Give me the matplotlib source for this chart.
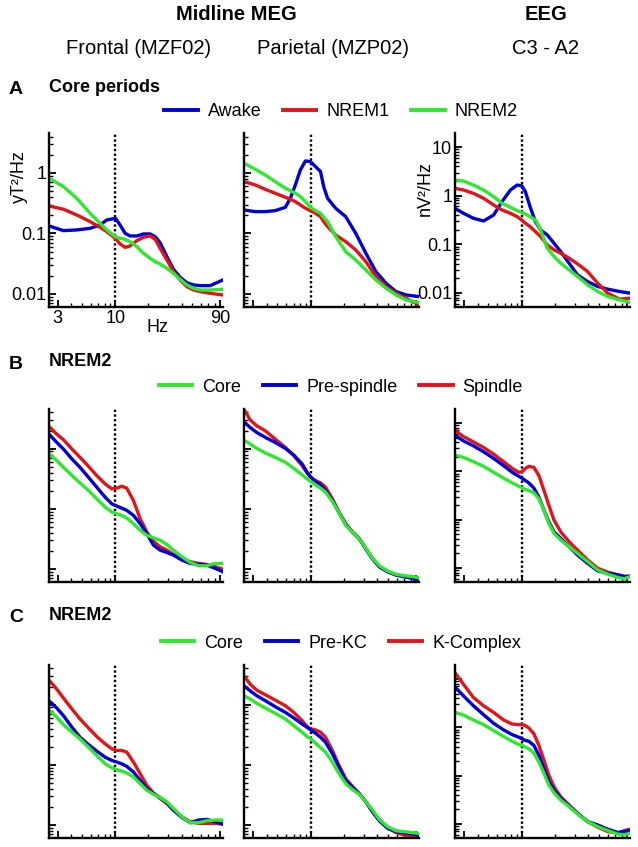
import numpy as np
import matplotlib
matplotlib.use('Agg')
import matplotlib.pyplot as plt
from matplotlib.ticker import FixedLocator, NullFormatter, LogLocator
from matplotlib.lines import Line2D

plt.rcParams['font.family'] = ['Liberation Sans', 'DejaVu Sans']

# ---------------- data (log10 power) ----------------
# Row A: core periods
F_A1 = [2.5, 3.38, 4.46, 5.90, 7.27, 8.36, 10.0, 11.05, 12.27, 13.6, 15.7, 18.0, 20.7, 23.0, 25.5, 29.4, 33.7, 38.8, 44.6, 51.3, 59.0, 72.7, 94.5]
A1_AWAKE = [-0.876, -0.953, -0.942, -0.915, -0.86, -0.777, -0.749, -0.86, -0.997, -1.041, -1.041, -1.008, -1.008, -1.052, -1.152, -1.383, -1.592, -1.725, -1.813, -1.851, -1.862, -1.862, -1.769]
A1_NREM1 = [-0.546, -0.6, -0.694, -0.804, -0.898, -0.97, -1.08, -1.174, -1.229, -1.207, -1.118, -1.063, -1.041, -1.096, -1.245, -1.438, -1.631, -1.769, -1.879, -1.934, -1.961, -1.989, -2.016]
A1_NREM2 = [-0.088, -0.226, -0.419, -0.667, -0.832, -0.942, -1.052, -1.08, -1.096, -1.135, -1.218, -1.328, -1.41, -1.466, -1.504, -1.576, -1.658, -1.758, -1.851, -1.906, -1.934, -1.934, -1.923]

F_A2 = [2.5, 3.15, 3.88, 4.78, 5.90, 6.55, 7.27, 8.07, 8.96, 9.95, 11.05, 12.27, 13.1, 14.2, 16.8, 20.7, 25.5, 31.5, 38.8, 47.9, 59.0, 72.7, 95]
A2_AWAKE = [-0.612, -0.639, -0.639, -0.623, -0.568, -0.419, -0.198, 0.05, 0.198, 0.187, 0.105, 0.022, -0.226, -0.419, -0.584, -0.722, -0.997, -1.328, -1.631, -1.824, -1.961, -2.016, -2.044]
A2_NREM1 = [-0.143, -0.198, -0.27, -0.336, -0.402, -0.435, -0.474, -0.529, -0.584, -0.623, -0.667, -0.722, -0.804, -0.887, -1.025, -1.135, -1.273, -1.466, -1.714, -1.879, -1.989, -2.072, -2.182]
A2_NREM2 = [0.160, 0.061, -0.033, -0.143, -0.253, -0.292, -0.336, -0.391, -0.474, -0.568, -0.623, -0.667, -0.733, -0.804, -1.052, -1.3, -1.438, -1.603, -1.769, -1.906, -2.016, -2.099, -2.143]

F_A3 = [2.5, 2.98, 3.67, 4.53, 5.58, 6.64, 7.91, 9.09, 10.0, 10.8, 11.9, 13.3, 14.8, 17.0, 19.6, 22.5, 26.8, 31.9, 39.3, 48.5, 59.8, 76.3, 95]
A3_AWAKE = [-0.26, -0.362, -0.465, -0.52, -0.397, -0.123, 0.117, 0.219, 0.206, 0.082, -0.226, -0.534, -0.705, -0.807, -0.979, -1.15, -1.389, -1.629, -1.766, -1.868, -1.923, -1.971, -2.005]
A3_NREM1 = [0.151, 0.117, 0.048, -0.054, -0.191, -0.294, -0.362, -0.431, -0.499, -0.568, -0.636, -0.739, -0.842, -1.013, -1.115, -1.184, -1.286, -1.403, -1.56, -1.8, -2.005, -2.128, -2.108]
A3_NREM2 = [0.322, 0.301, 0.219, 0.117, -0.02, -0.157, -0.239, -0.308, -0.349, -0.376, -0.431, -0.499, -0.705, -1.081, -1.252, -1.389, -1.526, -1.663, -1.834, -1.971, -2.074, -2.142, -2.197]

# Row B: NREM2 spindles
F_B1 = [2.5, 2.94, 3.38, 4.04, 4.78, 5.70, 6.78, 8.07, 9.28, 10.3, 11.4, 12.7, 14.6, 16.8, 19.3, 22.2, 25.5, 29.4, 33.7, 40.2, 47.9, 57.0, 67.8, 80.7, 94.5]
B1_CORE = [-0.088, -0.198, -0.309, -0.446, -0.568, -0.694, -0.832, -0.97, -1.052, -1.08, -1.107, -1.152, -1.245, -1.355, -1.438, -1.482, -1.521, -1.592, -1.686, -1.796, -1.89, -1.945, -1.945, -1.906, -1.906]
B1_PRE = [0.242, 0.105, -0.006, -0.171, -0.309, -0.474, -0.639, -0.804, -0.915, -0.953, -0.986, -1.025, -1.107, -1.245, -1.41, -1.603, -1.686, -1.725, -1.769, -1.851, -1.906, -1.923, -1.934, -1.989, -2.044]
B1_SPINDLE = [0.369, 0.242, 0.149, -0.006, -0.143, -0.292, -0.446, -0.584, -0.667, -0.656, -0.623, -0.656, -0.86, -1.163, -1.383, -1.537, -1.631, -1.686, -1.758, -1.824, -1.879, -1.906, -1.923, -1.961, -2.0]

F_B2 = [2.5, 2.84, 3.26, 3.90, 4.78, 5.90, 7.03, 8.36, 9.28, 10.0, 11.05, 12.27, 13.6, 15.7, 18.0, 20.7, 23.8, 27.4, 31.5, 36.2, 41.6, 49.5, 59.0, 70.2, 83.6, 95]
B2_CORE = [0.143, 0.077, 0.005, -0.072, -0.143, -0.226, -0.325, -0.435, -0.501, -0.546, -0.601, -0.656, -0.722, -0.876, -1.063, -1.273, -1.383, -1.493, -1.658, -1.824, -1.945, -2.033, -2.088, -2.11, -2.127, -2.143]
B2_PRE = [0.446, 0.353, 0.27, 0.187, 0.105, 0.005, -0.105, -0.253, -0.391, -0.474, -0.546, -0.601, -0.694, -0.86, -1.063, -1.262, -1.383, -1.493, -1.669, -1.835, -1.961, -2.044, -2.099, -2.127, -2.154, -2.209]
B2_SPINDLE = [0.656, 0.479, 0.38, 0.297, 0.16, 0.022, -0.116, -0.281, -0.402, -0.474, -0.529, -0.568, -0.639, -0.832, -1.052, -1.245, -1.383, -1.493, -1.658, -1.824, -1.961, -2.044, -2.099, -2.127, -2.154, -2.209]

F_B3 = [2.5, 2.98, 3.67, 4.53, 5.58, 6.87, 8.19, 9.41, 10.1, 10.8, 11.6, 12.9, 14.3, 15.9, 17.6, 19.6, 22.5, 26.8, 31.9, 39.3, 48.5, 59.8, 73.7, 84.8, 95]
B3_CORE = [0.336, 0.288, 0.199, 0.103, -0.02, -0.143, -0.239, -0.308, -0.349, -0.376, -0.397, -0.445, -0.568, -0.807, -1.081, -1.286, -1.423, -1.56, -1.697, -1.868, -2.039, -2.128, -2.197, -2.224, -2.176]
B3_PRE = [0.746, 0.63, 0.527, 0.404, 0.267, 0.117, -0.02, -0.102, -0.143, -0.191, -0.239, -0.349, -0.534, -0.807, -1.047, -1.252, -1.389, -1.56, -1.731, -1.903, -2.06, -2.108, -2.142, -2.176, -2.176]
B3_SPINDLE = [0.849, 0.719, 0.609, 0.493, 0.356, 0.199, 0.062, -0.02, -0.007, 0.062, 0.103, 0.082, -0.089, -0.397, -0.705, -1.013, -1.252, -1.458, -1.629, -1.834, -2.005, -2.087, -2.142, -2.176, -2.163]

# Row C: NREM2 K-complexes (same frequency grids as row B)
C1_CORE = [-0.088, -0.209, -0.331, -0.457, -0.567, -0.705, -0.843, -0.981, -1.047, -1.08, -1.102, -1.135, -1.201, -1.311, -1.421, -1.488, -1.543, -1.614, -1.725, -1.862, -1.961, -1.961, -1.928, -1.917, -1.917]
C1_PRE = [0.066, -0.055, -0.182, -0.375, -0.54, -0.661, -0.771, -0.871, -0.926, -0.953, -0.981, -1.025, -1.118, -1.256, -1.394, -1.477, -1.543, -1.631, -1.752, -1.873, -1.961, -1.917, -1.906, -1.945, -1.983]
C1_KC = [0.408, 0.259, 0.11, -0.072, -0.237, -0.386, -0.529, -0.65, -0.733, -0.76, -0.76, -0.788, -0.953, -1.146, -1.339, -1.466, -1.559, -1.642, -1.752, -1.862, -1.945, -1.972, -1.972, -1.972, -1.983]

C2_CORE = [0.149, 0.094, 0.022, -0.055, -0.143, -0.237, -0.347, -0.457, -0.529, -0.567, -0.639, -0.716, -0.788, -0.953, -1.146, -1.311, -1.41, -1.488, -1.614, -1.752, -1.906, -2.028, -2.094, -2.11, -2.127, -2.138]
C2_PRE = [0.314, 0.231, 0.149, 0.066, -0.033, -0.127, -0.22, -0.32, -0.375, -0.419, -0.474, -0.54, -0.623, -0.815, -1.036, -1.256, -1.377, -1.477, -1.614, -1.78, -1.928, -2.055, -2.11, -2.127, -2.149, -2.165]
C2_KC = [0.479, 0.342, 0.242, 0.165, 0.077, -0.017, -0.127, -0.264, -0.364, -0.402, -0.419, -0.457, -0.54, -0.76, -1.008, -1.229, -1.355, -1.477, -1.614, -1.78, -1.917, -2.039, -2.127, -2.165, -2.176, -2.193]

C3_CORE = [0.308, 0.254, 0.151, 0.055, -0.068, -0.191, -0.287, -0.355, -0.376, -0.41, -0.444, -0.533, -0.718, -0.958, -1.197, -1.355, -1.505, -1.642, -1.793, -1.95, -2.053, -2.135, -2.21, -2.224, -2.19]
C3_PRE = [0.835, 0.651, 0.445, 0.261, 0.083, -0.054, -0.15, -0.205, -0.239, -0.273, -0.287, -0.376, -0.581, -0.855, -1.129, -1.3, -1.471, -1.629, -1.779, -1.95, -2.019, -2.108, -2.176, -2.156, -2.135]
C3_KC = [1.13, 0.89, 0.616, 0.445, 0.308, 0.151, 0.069, 0.055, 0.055, 0.035, -0.013, -0.136, -0.376, -0.684, -0.992, -1.232, -1.437, -1.608, -1.779, -1.95, -2.067, -2.156, -2.19, -2.135, -2.108]

X_TICKS = [3, 10, 90]
X_TICK_LABELS = ['3', '10', '90']
Y_TICKS_MEG = [0.01, 0.1, 1]
Y_TICK_LABELS_MEG = ['0.01', '0.1', '1']
Y_TICKS_EEG = [0.01, 0.1, 1, 10]
Y_TICK_LABELS_EEG = ['0.01', '0.1', '1', '10']
SPINDLE_FREQ = 10

BLUE = '#0000d8'
RED = '#e2141a'
GREEN = '#2de82d'

LEG_A = [('Awake', BLUE), ('NREM1', RED), ('NREM2', GREEN)]
LEG_B = [('Core', GREEN), ('Pre-spindle', BLUE), ('Spindle', RED)]
LEG_C = [('Core', GREEN), ('Pre-KC', BLUE), ('K-Complex', RED)]

panels = {
    (0, 0): (F_A1, [(A1_AWAKE, BLUE), (A1_NREM1, RED), (A1_NREM2, GREEN)]),
    (0, 1): (F_A2, [(A2_AWAKE, BLUE), (A2_NREM1, RED), (A2_NREM2, GREEN)]),
    (0, 2): (F_A3, [(A3_AWAKE, BLUE), (A3_NREM1, RED), (A3_NREM2, GREEN)]),
    (1, 0): (F_B1, [(B1_SPINDLE, RED), (B1_PRE, BLUE), (B1_CORE, GREEN)]),
    (1, 1): (F_B2, [(B2_SPINDLE, RED), (B2_PRE, BLUE), (B2_CORE, GREEN)]),
    (1, 2): (F_B3, [(B3_SPINDLE, RED), (B3_PRE, BLUE), (B3_CORE, GREEN)]),
    (2, 0): (F_B1, [(C1_KC, RED), (C1_PRE, BLUE), (C1_CORE, GREEN)]),
    (2, 1): (F_B2, [(C2_KC, RED), (C2_PRE, BLUE), (C2_CORE, GREEN)]),
    (2, 2): (F_B3, [(C3_KC, RED), (C3_PRE, BLUE), (C3_CORE, GREEN)]),
}

# ---------------- layout ----------------
W, H = 638, 847
fig = plt.figure(figsize=(W / 100, H / 100), dpi=100)

COLS_X = [(49, 223), (244, 419), (455, 630)]
ROWS_Y = [(133, 307), (409, 582), (665, 838)]
XLIM = (2.5, 95)
YLIM_MEG = (10 ** -2.215, 10 ** 0.66)
YLIM_EEG = (10 ** -2.29, 10 ** 1.29)


def fx(x):
    return x / W


def fy(y):
    return 1 - y / H


for (r, c), (freq, curves) in panels.items():
    x0, x1 = COLS_X[c]
    y0, y1 = ROWS_Y[r]
    ax = fig.add_axes([fx(x0), fy(y1), (x1 - x0) / W, (y1 - y0) / H])
    ax.set_xscale('log')
    ax.set_yscale('log')
    for vals, col in curves:
        ax.plot(freq, 10 ** np.asarray(vals), color=col, lw=2.4)
    ax.axvline(SPINDLE_FREQ, color='black', ls=(0, (1, 1)), lw=1.7, zorder=0)
    ax.set_xlim(*XLIM)
    ax.set_ylim(*(YLIM_EEG if c == 2 else YLIM_MEG))

    ax.xaxis.set_major_locator(FixedLocator(X_TICKS))
    ax.xaxis.set_minor_locator(LogLocator(base=10, subs=np.arange(2, 10), numticks=20))
    ax.xaxis.set_minor_formatter(NullFormatter())
    yt = Y_TICKS_EEG if c == 2 else Y_TICKS_MEG
    ytl = Y_TICK_LABELS_EEG if c == 2 else Y_TICK_LABELS_MEG
    ax.yaxis.set_major_locator(FixedLocator(yt))
    ax.yaxis.set_minor_locator(LogLocator(base=10, subs=np.arange(2, 10), numticks=20))
    ax.yaxis.set_minor_formatter(NullFormatter())

    if r == 0 and c == 0:
        ax.set_xticklabels(X_TICK_LABELS)
    else:
        ax.xaxis.set_major_formatter(NullFormatter())
    if r == 0 and c in (0, 2):
        ax.set_yticklabels(ytl)
    else:
        ax.yaxis.set_major_formatter(NullFormatter())

    ax.tick_params(which='major', direction='in', length=5, width=1.3,
                   labelsize=13, pad=2)
    ax.tick_params(which='minor', direction='in', length=3, width=1.0)
    ax.spines[['top', 'right']].set_visible(False)
    ax.spines[['left', 'bottom']].set_linewidth(1.7)

# ---------------- texts ----------------
fig.text(fx(236), fy(15), 'Midline MEG', ha='center', va='center', fontsize=14.5, fontweight='bold')
fig.text(fx(546), fy(15), 'EEG', ha='center', va='center', fontsize=14.5, fontweight='bold')
fig.text(fx(139), fy(48), 'Frontal (MZF02)', ha='center', va='center', fontsize=14.5)
fig.text(fx(333), fy(48), 'Parietal (MZP02)', ha='center', va='center', fontsize=14.5)
fig.text(fx(545), fy(48), 'C3 - A2', ha='center', va='center', fontsize=14.5)

for letter, title, ly in [('A', 'Core periods', 87), ('B', 'NREM2', 362), ('C', 'NREM2', 615)]:
    fig.text(fx(16), fy(ly + 2), letter, ha='center', va='center', fontsize=14, fontweight='bold')
    fig.text(fx(49), fy(ly), title, ha='left', va='center', fontsize=13, fontweight='bold')

fig.text(fx(19), fy(177), 'yT²/Hz', ha='center', va='center', rotation=90, fontsize=13)
fig.text(fx(425), fy(189), 'nV²/Hz', ha='center', va='center', rotation=90, fontsize=13)
fig.text(fx(158), fy(328), 'Hz', ha='center', va='center', fontsize=13)

for entries, ly in [(LEG_A, 112), (LEG_B, 387), (LEG_C, 643)]:
    handles = [Line2D([], [], color=col, lw=2.8) for _, col in entries]
    fig.legend(handles, [lab for lab, _ in entries], loc='center',
               bbox_to_anchor=(fx(341), fy(ly)), ncol=3, frameon=False,
               fontsize=13, handlelength=1.85, handletextpad=0.55,
               columnspacing=1.2, borderpad=0, borderaxespad=0)

fig.savefig('out.png', dpi=100)
